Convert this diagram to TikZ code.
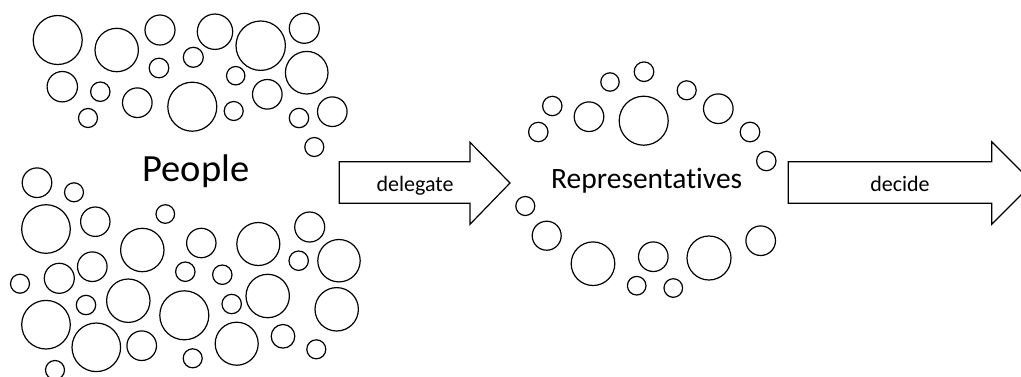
\documentclass[tikz,border=0pt]{standalone}
\usepackage{fontspec}
\setmainfont[Ligatures=NoCommon]{Carlito}
\begin{document}
\begin{tikzpicture}[x=1pt,y=-1pt,
  bubble/.style={draw=black,line width=1.2pt},
  arrowbox/.style={draw=black,line width=1.2pt,fill=white,line join=miter},
  bigtext/.style={anchor=base,inner sep=0pt,font=\fontsize{38.5}{40}\selectfont},
  midtext/.style={anchor=base,inner sep=0pt,font=\fontsize{29.5}{32}\selectfont},
  smalltext/.style={anchor=base,inner sep=0pt,font=\fontsize{22}{24}\selectfont}]
\useasboundingbox (0,0) rectangle (1021,376);
\clip (0,0) rectangle (1021,376);
% People circles
\foreach \x/\y/\r in {57.7/40/24.5, 116.7/50/21.7, 160/30/15, 215/31.7/17.7, 260.7/45.7/24.7,
  304.3/28.3/15, 193.3/57.3/10, 159/68/9.8, 62.3/86.7/15.2, 100.3/91.7/9.7, 88/118/9.5,
  137.3/102.7/14.8, 192.3/106.7/24.5, 235.7/75.7/9.2, 233.7/111/9.5, 267.3/94.3/14.8,
  306.7/72.7/21.3, 299/118/9.7, 332.3/111.7/14.8, 314.3/147/9.5,
  37/182.7/14.8, 74/192.3/9.5, 46/229/24.3, 95.3/221.7/14.7, 165.3/214/9.3, 142.3/250/21.7,
  201.3/243/14.7, 258.3/244/21.5, 309.7/227/15, 298.7/260.7/9.7, 339/260.7/21.2,
  92.3/266.7/14.8, 59.3/278.3/15, 20/283.7/9.5, 185.3/271.7/9.7, 222.3/274.7/9.7,
  128.3/300.7/21.7, 86/305/9.7, 46/324.7/24.3, 184.3/315.3/24.5, 231.7/304/9.7,
  267.7/296/21.7, 336.7/309.3/21.7, 96.3/347.3/24.3, 141.7/345.7/14.8, 192.7/358.3/9.5,
  236.7/343.7/21.5, 283/336.3/11.8, 316.3/349.3/9.5, 55/370/9.5}
  {\draw[bubble] (\x,\y) circle[radius=\r];}
% Representatives circles
\foreach \x/\y/\r in {644/71.7/9.8, 610/82/9.2, 552.3/106/9.7, 589/116.7/14.8, 643.7/120.7/24.5,
  686.7/90.3/9.5, 718.3/108.7/14.8, 538.3/132/9.7, 750/132/9.8, 766.3/161/9.7,
  525.3/206/9.5, 546.7/235.7/14.5, 593/263.7/21.8, 653.3/256.7/14.8, 636.7/285.7/9.3,
  673.3/288/9.3, 709/258/22, 760.7/240.7/14.8}
  {\draw[bubble] (\x,\y) circle[radius=\r];}
% texts
\node[bigtext] (people) at (196,181.7) {People};
\node[midtext] (reps) at (646.7,188.3) {Representatives};
% delegate arrow
\draw[arrowbox] (339.3,161.7) -- (470,161.7) -- (470,142.3) -- (510,183) -- (470,224.3)
  -- (470,203.3) -- (339.3,203.3) -- cycle;
\node[smalltext] (delegate) at (415,191.7) {delegate};
% decide arrow
\draw[arrowbox] (788.3,161.7) -- (991.7,161.7) -- (991.7,141.7) -- (1033,183) -- (991.7,224.3)
  -- (991.7,203.3) -- (788.3,203.3) -- cycle;
\node[smalltext] (decide) at (900,191.7) {decide};
\end{tikzpicture}
\end{document}
